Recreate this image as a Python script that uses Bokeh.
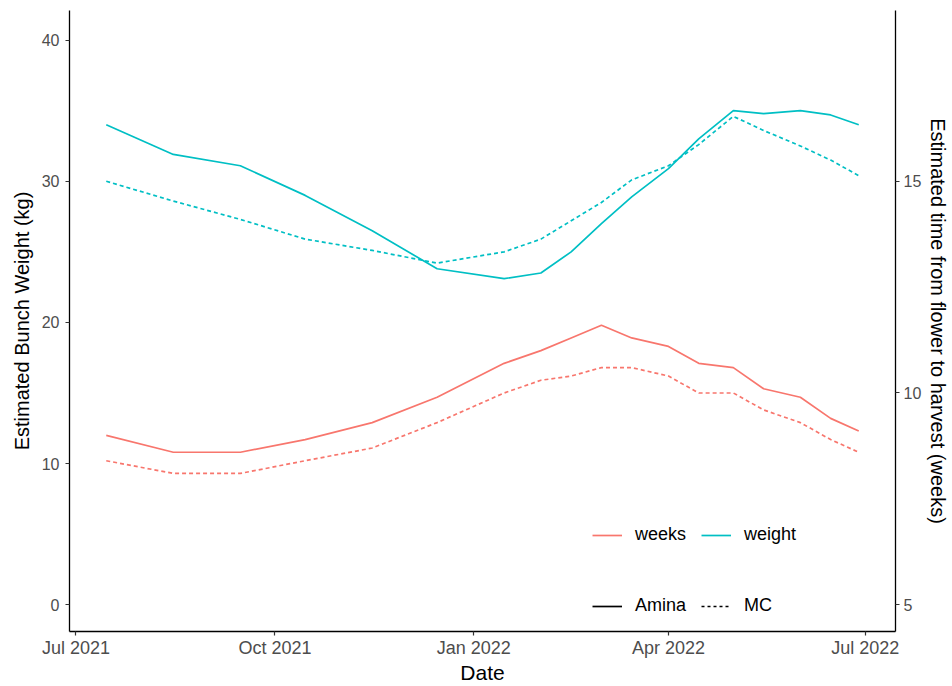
from datetime import datetime

from bokeh.embed import file_html
from bokeh.models import (ColumnDataSource, DatetimeTickFormatter, FixedTicker,
                          Legend, LegendItem, LinearAxis, Range1d)
from bokeh.plotting import figure
from bokeh.resources import INLINE

# Sampling dates (monthly, then twice a month from January)
dates = ["2021-07-15", "2021-08-15", "2021-09-15", "2021-10-15", "2021-11-15",
         "2021-12-15", "2022-01-15", "2022-02-01", "2022-02-15", "2022-03-01",
         "2022-03-15", "2022-04-01", "2022-04-15", "2022-05-01", "2022-05-15",
         "2022-06-01", "2022-06-15", "2022-06-28"]

# Estimated bunch weight (kg)
weight_amina = [34.0, 31.9, 31.1, 29.0, 26.5, 23.8, 23.1, 23.5, 25.0, 27.0,
                28.9, 30.9, 33.0, 35.0, 34.8, 35.0, 34.7, 34.0]
weight_mc = [30.0, 28.6, 27.3, 25.9, 25.1, 24.2, 25.0, 25.9, 27.2, 28.5,
             30.1, 31.1, 32.6, 34.6, 33.6, 32.5, 31.5, 30.4]

# Estimated time from flower to harvest (weeks)
weeks_amina = [9.0, 8.6, 8.6, 8.9, 9.3, 9.9, 10.7, 11.0, 11.3, 11.6,
               11.3, 11.1, 10.7, 10.6, 10.1, 9.9, 9.4, 9.1]
weeks_mc = [8.4, 8.1, 8.1, 8.4, 8.7, 9.3, 10.0, 10.3, 10.4, 10.6,
            10.6, 10.4, 10.0, 10.0, 9.6, 9.3, 8.9, 8.6]

x_ticks = ["2021-07-01", "2021-10-01", "2022-01-01", "2022-04-01", "2022-07-01"]
kg_ticks = [0, 10, 20, 30, 40]
week_ticks = [5, 10, 15]

# secondary scale: kg = 3 * weeks - 15
KG_MIN, KG_MAX = -1.9, 42.1


def to_ms(s):
    return datetime.strptime(s, "%Y-%m-%d").timestamp() * 1000


x = [datetime.strptime(d, "%Y-%m-%d") for d in dates]
src = ColumnDataSource(dict(x=x, wa=weight_amina, wm=weight_mc,
                            ka=weeks_amina, km=weeks_mc))

RED = "#F8766D"
TEAL = "#00BFC4"
FONT = "Liberation Sans"
TICK_COL = "#4D4D4D"

p = figure(width=952, height=686, output_backend="svg", toolbar_location=None,
           x_axis_type="datetime",
           x_range=Range1d(to_ms("2021-06-28"), to_ms("2022-07-15")),
           y_range=Range1d(KG_MIN, KG_MAX),
           min_border_left=69, min_border_right=55,
           min_border_top=10, min_border_bottom=49)
p.extra_y_ranges = {"weeks": Range1d((KG_MIN + 15) / 3, (KG_MAX + 15) / 3)}

p.outline_line_color = None
p.xgrid.visible = False
p.ygrid.visible = False
p.background_fill_color = "white"
p.border_fill_color = "white"

lw = 1.7
p.line("x", "wa", source=src, color=TEAL, line_width=lw)
p.line("x", "wm", source=src, color=TEAL, line_width=lw, line_dash="4 3")
p.line("x", "ka", source=src, color=RED, line_width=lw, y_range_name="weeks")
p.line("x", "km", source=src, color=RED, line_width=lw, line_dash="4 3",
       y_range_name="weeks")

# legend keys (no visible data of their own)
key_src = ColumnDataSource(dict(x=[x[0]], y=[float("nan")]))
k_weeks = p.line("x", "y", source=key_src, color=RED, line_width=lw)
k_weight = p.line("x", "y", source=key_src, color=TEAL, line_width=lw)
k_amina = p.line("x", "y", source=key_src, color="black", line_width=lw)
k_mc = p.line("x", "y", source=key_src, color="black", line_width=lw, line_dash="3 3")


def styled_axis(ax, tick_size):
    ax.axis_line_color = "black"
    ax.axis_line_width = 1.3
    ax.major_tick_line_color = "#333333"
    ax.major_tick_line_width = 1.2
    ax.major_tick_in = 0
    ax.major_tick_out = 4
    ax.minor_tick_line_color = None
    ax.major_label_text_font = FONT
    ax.major_label_text_font_size = tick_size
    ax.major_label_text_color = TICK_COL
    ax.axis_label_text_font = FONT
    ax.axis_label_text_font_size = "20px"
    ax.axis_label_text_font_style = "normal"
    ax.axis_label_text_color = "black"


xa = p.xaxis[0]
styled_axis(xa, "18px")
xa.ticker = FixedTicker(ticks=[to_ms(t) for t in x_ticks])
fmt = "%b %Y"
xa.formatter = DatetimeTickFormatter(milliseconds=fmt, seconds=fmt, minsec=fmt,
                                     minutes=fmt, hourmin=fmt, hours=fmt, days=fmt,
                                     months=fmt, years=fmt)
xa.axis_label = "Date"
xa.axis_label_text_font_size = "21px"
xa.major_label_standoff = 2
xa.axis_label_standoff = 0

ya = p.yaxis[0]
styled_axis(ya, "16px")
ya.ticker = FixedTicker(ticks=kg_ticks)
ya.axis_label = "Estimated Bunch Weight (kg)"
ya.major_label_standoff = 6
ya.axis_label_standoff = 6

ra = LinearAxis(y_range_name="weeks", axis_label="Estimated time from flower to harvest (weeks)")
styled_axis(ra, "16px")
ra.ticker = FixedTicker(ticks=week_ticks)
ra.major_label_standoff = 4
ra.axis_label_standoff = 3
p.add_layout(ra, "right")


def make_legend(items, loc):
    lg = Legend(items=items, location=loc, orientation="horizontal",
                label_text_font=FONT, label_text_font_size="18px",
                label_text_color="black", glyph_width=30, glyph_height=20,
                label_standoff=13, spacing=15, padding=0, margin=0,
                border_line_color=None, background_fill_alpha=0)
    p.add_layout(lg, "center")


make_legend([LegendItem(label="weeks", renderers=[k_weeks]),
             LegendItem(label="weight", renderers=[k_weight])], (523, 86))
make_legend([LegendItem(label="Amina", renderers=[k_amina]),
             LegendItem(label="MC", renderers=[k_mc])], (523, 15))

open("out.html", "w").write(file_html(p, INLINE))
